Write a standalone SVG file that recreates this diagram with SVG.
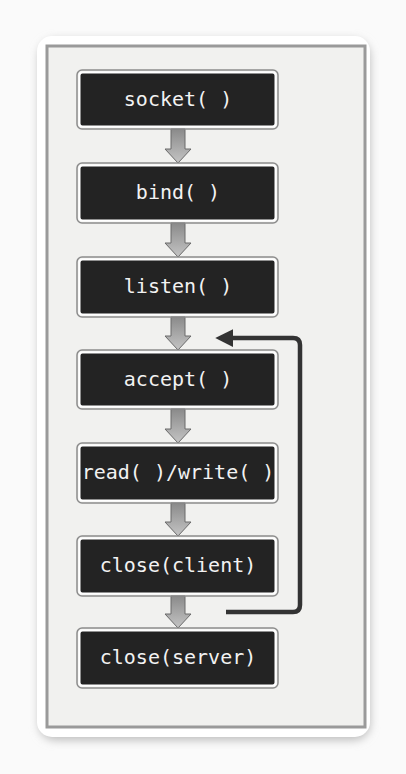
<svg xmlns="http://www.w3.org/2000/svg" width="406" height="774" viewBox="0 0 406 774">
<defs>
<filter id="sh" x="-10%" y="-10%" width="120%" height="120%"><feGaussianBlur stdDeviation="5"/></filter>
<linearGradient id="ag" x1="0" y1="0" x2="0" y2="1"><stop offset="0" stop-color="#8a8a8a"/><stop offset="1" stop-color="#c4c4c4"/></linearGradient>
<marker id="ah" markerWidth="4" markerHeight="4" refX="2.5" refY="2" orient="auto" markerUnits="strokeWidth"><path d="M0,0 L4,2 L0,4 Z" fill="#333"/></marker>
</defs>
<style>
.bo{fill:#232323;stroke:#fff;stroke-width:2}
.bg{fill:none;stroke:#8c8c8c;stroke-width:1.5}
.t{font-family:"DejaVu Sans Mono","Liberation Mono",monospace;font-size:20px;fill:#f2f2f2;text-anchor:middle}
.ar{fill:url(#ag);stroke:#6a6a6a;stroke-width:1}
</style>
<rect width="406" height="774" fill="#fafafa"/>
<rect x="39" y="40" width="331" height="700" rx="16" fill="#bbb" filter="url(#sh)"/>
<rect x="37" y="36" width="333" height="701" rx="15" fill="#fff"/>
<rect x="47" y="46" width="318" height="681" fill="#f1f1ef" stroke="#9a9a9a" stroke-width="3"/>
<g id="connectors">
<path class="ar" d="M171,129 H185 V149 H191 L178,163 L165,149 H171 Z"/>
<path class="ar" d="M171,223 H185 V243 H191 L178,257 L165,243 H171 Z"/>
<path class="ar" d="M171,317 H185 V336 H191 L178,350 L165,336 H171 Z"/>
<path class="ar" d="M171,409 H185 V429 H191 L178,443 L165,429 H171 Z"/>
<path class="ar" d="M171,503 H185 V522 H191 L178,536 L165,522 H171 Z"/>
<path class="ar" d="M171,596 H185 V614 H191 L178,628 L165,614 H171 Z"/>
<path d="M226,612 H293 Q300,612 300,605 V345 Q300,338 293,338 H222" fill="none" stroke="#333" stroke-width="4.5" marker-end="url(#ah)"/>
</g>
<g id="socket"><rect class="bg" x="77" y="70" width="201" height="59" rx="5"/><rect class="bo" x="79.5" y="72.5" width="196" height="54" rx="3"/><text class="t" x="178" y="106">socket( )</text></g>
<g id="bind"><rect class="bg" x="77" y="163" width="201" height="60" rx="5"/><rect class="bo" x="79.5" y="165.5" width="196" height="55" rx="3"/><text class="t" x="178" y="199">bind( )</text></g>
<g id="listen"><rect class="bg" x="77" y="257" width="201" height="60" rx="5"/><rect class="bo" x="79.5" y="259.5" width="196" height="55" rx="3"/><text class="t" x="178" y="293">listen( )</text></g>
<g id="accept"><rect class="bg" x="77" y="350" width="201" height="59" rx="5"/><rect class="bo" x="79.5" y="352.5" width="196" height="54" rx="3"/><text class="t" x="178" y="386">accept( )</text></g>
<g id="readwrite"><rect class="bg" x="77" y="443" width="201" height="60" rx="5"/><rect class="bo" x="79.5" y="445.5" width="196" height="55" rx="3"/><text class="t" x="178" y="479">read( )/write( )</text></g>
<g id="closeclient"><rect class="bg" x="77" y="536" width="201" height="60" rx="5"/><rect class="bo" x="79.5" y="538.5" width="196" height="55" rx="3"/><text class="t" x="178" y="572">close(client)</text></g>
<g id="closeserver"><rect class="bg" x="77" y="628" width="201" height="60" rx="5"/><rect class="bo" x="79.5" y="630.5" width="196" height="55" rx="3"/><text class="t" x="178" y="664">close(server)</text></g>
</svg>
